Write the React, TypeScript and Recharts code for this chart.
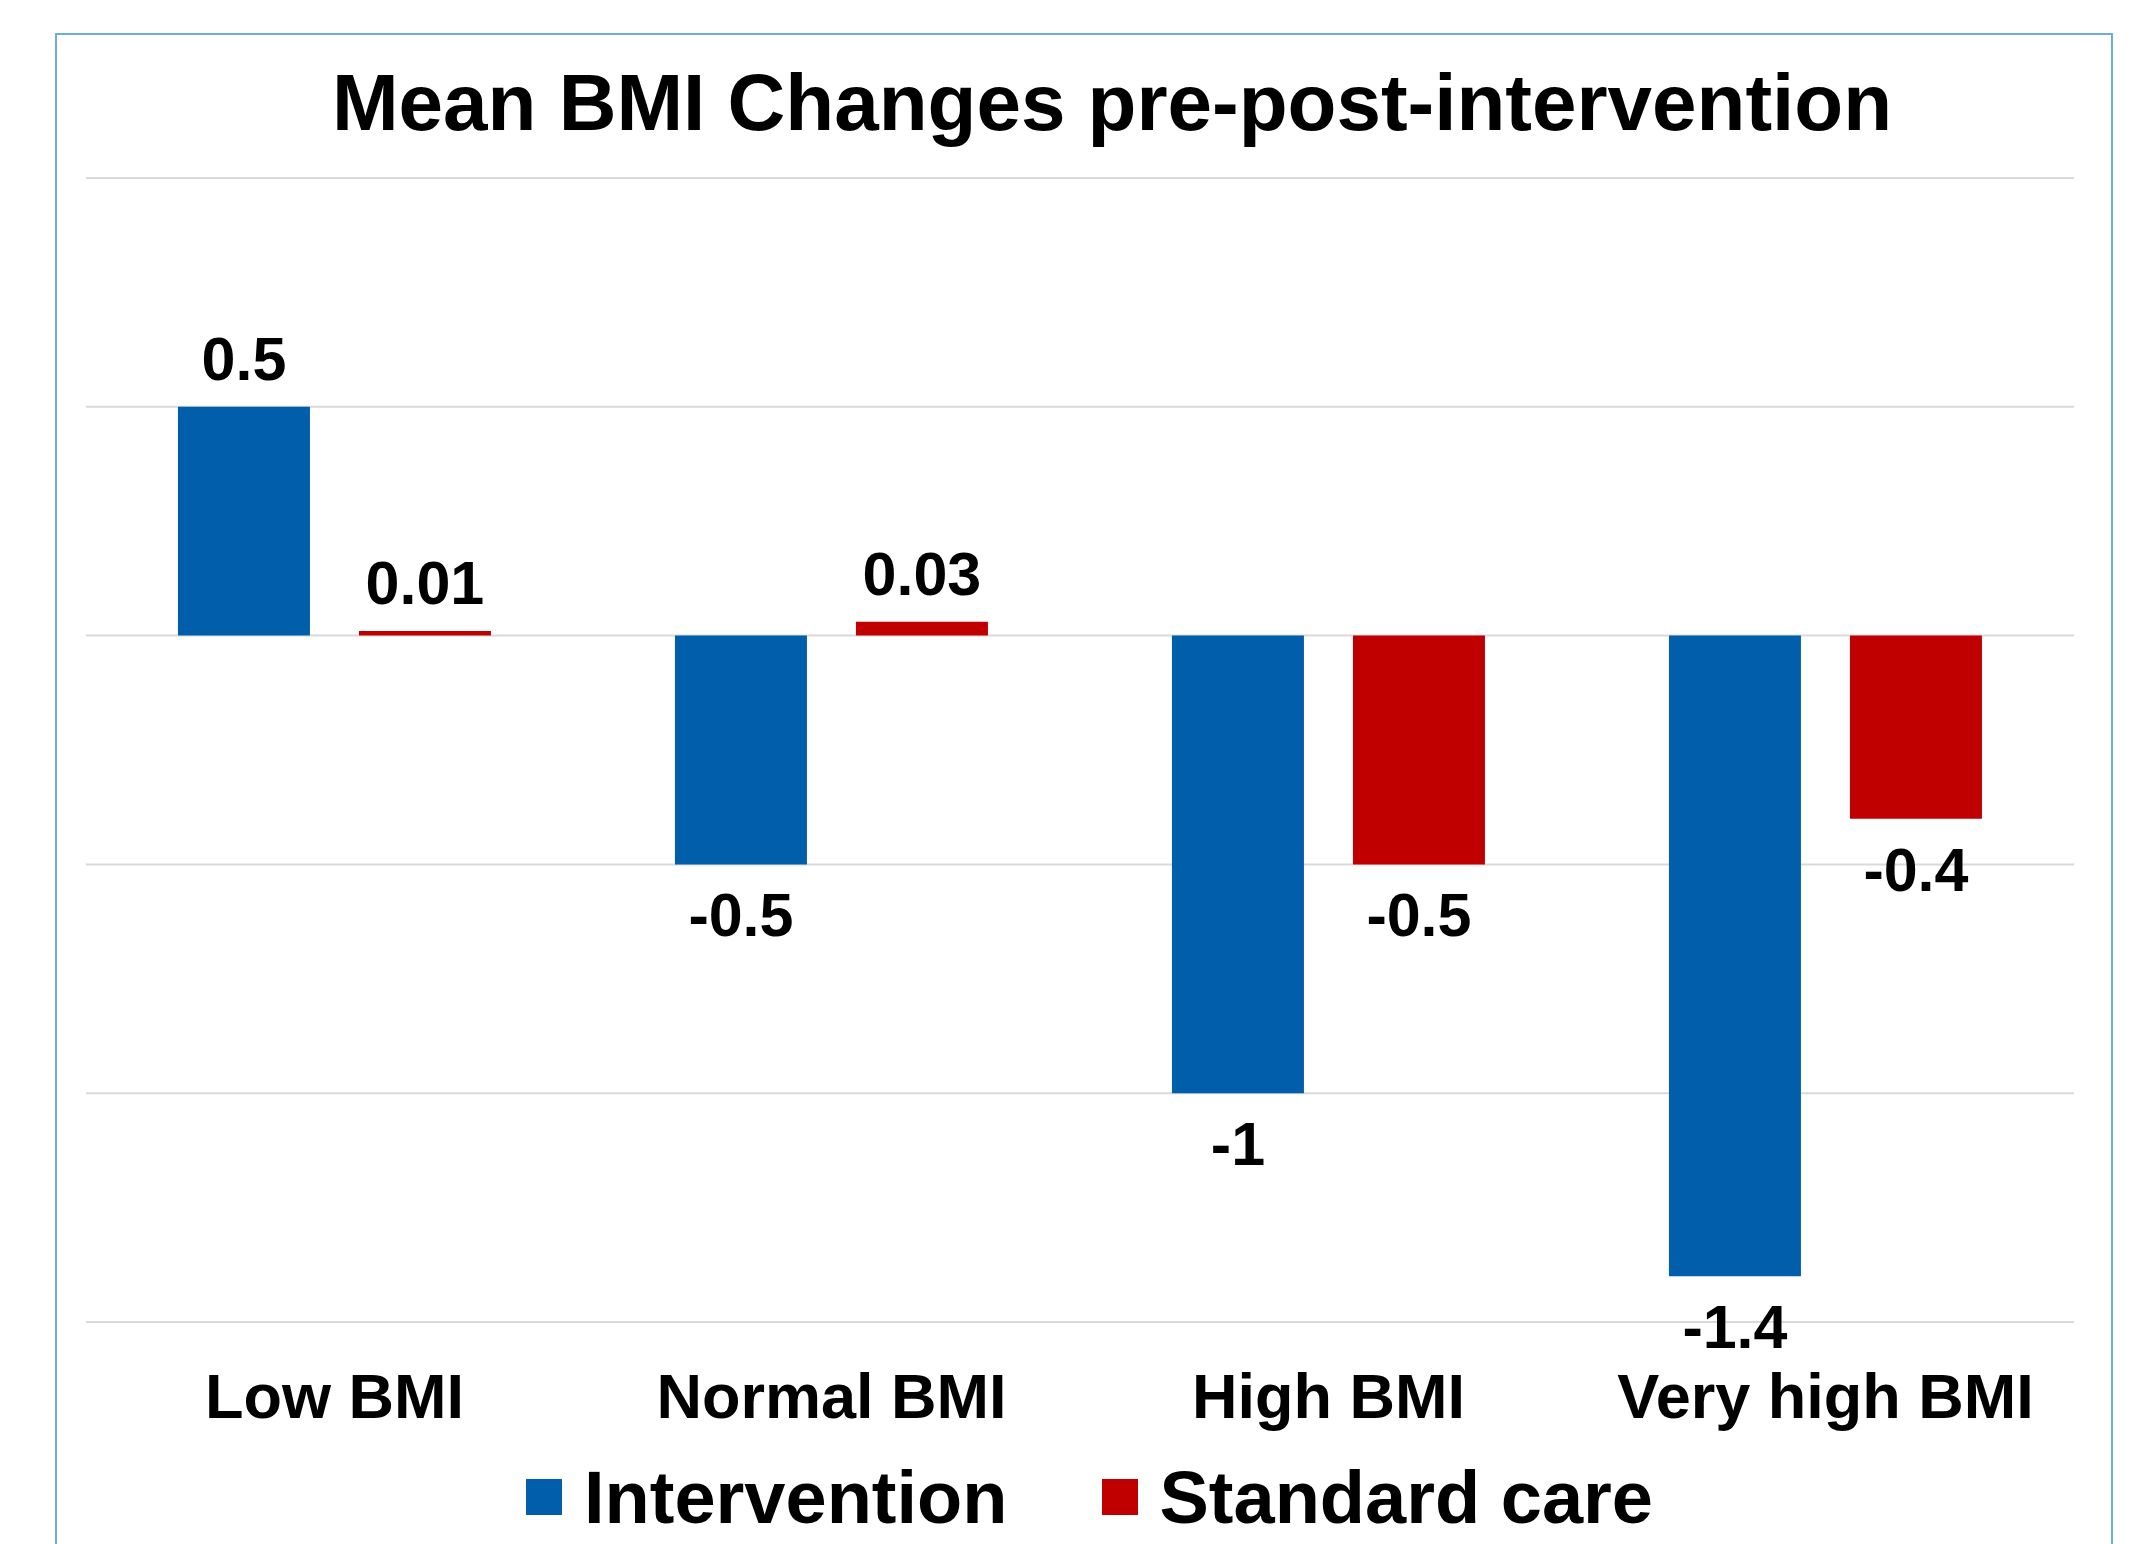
import React from 'react';
import { BarChart, Bar, XAxis, YAxis, CartesianGrid, Legend, LabelList } from 'recharts';

const categories = ['Low BMI', 'Normal BMI', 'High BMI', 'Very high BMI'];
const intervention = [0.5, -0.5, -1, -1.4];
const standardCare = [0.01, 0.03, -0.5, -0.4];
const yTicks = [-1.5, -1, -0.5, 0, 0.5, 1];

const data = categories.map((name, i) => ({
  name,
  intervention: intervention[i],
  standard: standardCare[i],
}));

const FONT = '"Liberation Sans", Arial, sans-serif';
const BLUE = '#005EAA';
const RED = '#C00000';

const CategoryTick = ({ x, y, payload }: any) => (
  <text
    x={x}
    y={y + 88}
    textAnchor="middle"
    fontFamily={FONT}
    fontWeight="bold"
    fontSize={63}
    fill="#000"
  >
    {payload.value}
  </text>
);

const ValueLabel = ({ x, y, width, height, value }: any) => {
  const top = Math.min(y, y + height);
  const bottom = Math.max(y, y + height);
  const ty = value >= 0 ? top - 27 : bottom + 72;
  return (
    <text
      x={x + width / 2}
      y={ty}
      textAnchor="middle"
      fontFamily={FONT}
      fontWeight="bold"
      fontSize={61}
      fill="#000"
    >
      {value}
    </text>
  );
};

const LegendContent = () => (
  <div
    style={{
      display: 'flex',
      alignItems: 'center',
      paddingLeft: 526,
      height: 80,
      fontFamily: FONT,
      fontWeight: 'bold',
      fontSize: 74,
      color: '#000',
    }}
  >
    <div style={{ width: 36, height: 36, background: BLUE, marginRight: 22 }} />
    <span>Intervention</span>
    <div style={{ width: 36, height: 36, background: RED, marginLeft: 95, marginRight: 21 }} />
    <span>Standard care</span>
  </div>
);

export default function App() {
  return (
    <div
      style={{
        position: 'absolute',
        left: 0,
        top: 0,
        width: 2132,
        height: 1544,
        overflow: 'hidden',
        background: '#fff',
      }}
    >
      <div
        style={{
          position: 'absolute',
          left: 55,
          top: 33,
          width: 2058,
          height: 1600,
          border: '2px solid #6AAEE0',
          boxSizing: 'border-box',
        }}
      />
      <div
        style={{
          position: 'absolute',
          left: 0,
          top: 63,
          width: 2224,
          textAlign: 'center',
          fontFamily: FONT,
          fontWeight: 'bold',
          fontSize: 80,
          lineHeight: '80px',
          color: '#000',
        }}
      >
        Mean BMI Changes pre-post-intervention
      </div>
      <div style={{ position: 'absolute', left: 0, top: 0 }}>
        <BarChart
          width={2132}
          height={1544}
          data={data}
          margin={{ top: 178, right: 58, left: 86, bottom: 162 }}
          barCategoryGap="18.5%"
          barGap={49}
        >
          <CartesianGrid vertical={false} stroke="#D9D9D9" strokeWidth={2} />
          <XAxis
            dataKey="name"
            height={60}
            axisLine={false}
            tickLine={false}
            tick={<CategoryTick />}
            interval={0}
          />
          <YAxis
            hide
            width={0}
            domain={[-1.5, 1]}
            ticks={yTicks}
            allowDataOverflow
          />
          <Legend
            layout="horizontal"
            verticalAlign="middle"
            align="center"
            content={<LegendContent />}
            wrapperStyle={{ position: 'absolute', top: 1457, left: 0, width: 2132 }}
          />
          <Bar dataKey="intervention" name="Intervention" fill={BLUE} isAnimationActive={false}>
            <LabelList dataKey="intervention" content={<ValueLabel />} />
          </Bar>
          <Bar dataKey="standard" name="Standard care" fill={RED} isAnimationActive={false}>
            <LabelList dataKey="standard" content={<ValueLabel />} />
          </Bar>
        </BarChart>
      </div>
    </div>
  );
}
